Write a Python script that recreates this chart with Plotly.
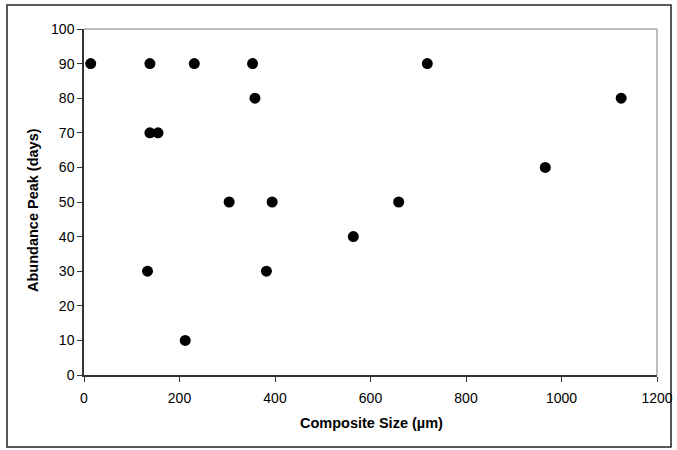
import plotly.graph_objects as go

composite_size = [14, 138, 231, 353, 719, 358, 1125, 138, 155, 966, 304, 394, 659, 564, 133, 382, 212]
abundance_peak = [90, 90, 90, 90, 90, 80, 80, 70, 70, 60, 50, 50, 50, 40, 30, 30, 10]
x_title = "Composite Size (µm)"
y_title = "Abundance Peak (days)"

W, H = 677, 450
L, R, T, B = 84, 20, 29, 75
pw, ph = W - L - R, H - T - B

def px_to_paper_x(px):
    return (px - L) / pw

def px_to_paper_y(py):
    return (H - B - py) / ph

fig = go.Figure()
fig.add_trace(go.Scatter(
    x=composite_size, y=abundance_peak, mode="markers",
    marker=dict(color="black", size=11, line=dict(width=0)),
    showlegend=False,
))

font = dict(family="Liberation Sans, Arial, sans-serif", size=13, color="black")

fig.update_layout(
    width=W, height=H,
    margin=dict(l=L, r=R, t=T, b=B, autoexpand=False),
    paper_bgcolor="white", plot_bgcolor="white",
    font=font,
    xaxis=dict(
        range=[0, 1200], tickvals=[0, 200, 400, 600, 800, 1000, 1200],
        showgrid=False, zeroline=False, automargin=False,
        showline=True, linecolor="#333333", linewidth=1.5,
        ticks="outside", ticklen=5, tickcolor="#333333", tickwidth=1,
        tickfont=dict(size=14), ticklabelstandoff=4,
    ),
    yaxis=dict(
        range=[0, 100], tickvals=list(range(0, 101, 10)),
        showgrid=False, zeroline=False, automargin=False,
        showline=True, linecolor="#333333", linewidth=1.5,
        ticks="outside", ticklen=5, tickcolor="#333333", tickwidth=1,
        tickfont=dict(size=14),
    ),
    annotations=[
        dict(text="<b>" + x_title + "</b>", xref="paper", yref="paper",
             x=px_to_paper_x(371), y=px_to_paper_y(423), showarrow=False,
             xanchor="center", yanchor="middle", font=dict(size=14.5)),
        dict(text="<b>" + y_title + "</b>", xref="paper", yref="paper",
             x=px_to_paper_x(33), y=px_to_paper_y(210), showarrow=False,
             xanchor="center", yanchor="middle", textangle=-90, font=dict(size=14.5)),
    ],
    shapes=[
        dict(type="line", xref="paper", yref="paper", x0=0, x1=1, y0=1, y1=1,
             line=dict(color="#a6a6a6", width=1.5), layer="below"),
        dict(type="line", xref="paper", yref="paper", x0=1, x1=1, y0=0, y1=1,
             line=dict(color="#a6a6a6", width=1.5), layer="below"),
        dict(type="rect", xref="paper", yref="paper",
             x0=px_to_paper_x(7), x1=px_to_paper_x(671),
             y0=px_to_paper_y(447), y1=px_to_paper_y(5),
             line=dict(color="#222222", width=1.5), layer="below"),
    ],
)

fig.write_html("out.html", config={"displayModeBar": False},
               post_script="document.body.style.margin='0';")
